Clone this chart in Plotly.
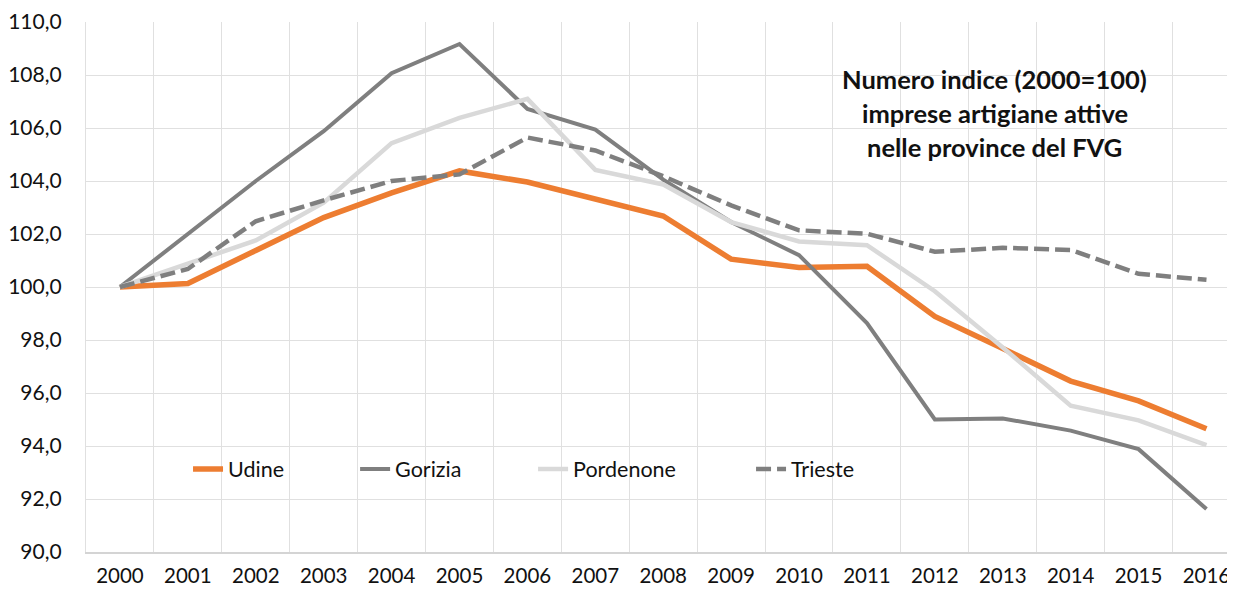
import plotly.graph_objects as go

years = [str(y) for y in range(2000, 2017)]

udine = [100.0, 100.13, 101.38, 102.62, 103.55, 104.38, 103.96, 103.3, 102.68,
         101.05, 100.74, 100.78, 98.89, 97.68, 96.45, 95.7, 94.65]
gorizia = [100.0, 102.0, 104.0, 105.88, 108.07, 109.17, 106.72, 105.94, 104.05,
           102.45, 101.2, 98.64, 95.0, 95.04, 94.58, 93.88, 91.62]
pordenone = [100.0, 100.9, 101.76, 103.18, 105.43, 106.38, 107.1, 104.42, 103.87,
             102.45, 101.72, 101.58, 99.84, 97.72, 95.52, 94.97, 94.03]
trieste = [100.0, 100.68, 102.48, 103.27, 104.0, 104.25, 105.64, 105.15, 104.18,
           103.08, 102.14, 102.01, 101.33, 101.48, 101.4, 100.5, 100.27]

y_ticks = [90, 92, 94, 96, 98, 100, 102, 104, 106, 108, 110]
title_lines = ["Numero indice (2000=100)", "imprese artigiane attive", "nelle province del FVG"]

FONT = "Lato"
TXT = "#111111"
GRID = "#E0E0E0"

series = [
    ("Udine", udine, dict(color="#ED7D31", width=5.5)),
    ("Gorizia", gorizia, dict(color="#7F7F7F", width=4)),
    ("Pordenone", pordenone, dict(color="#D9D9D9", width=4.5)),
    ("Trieste", trieste, dict(color="#7F7F7F", width=4.5, dash="15px,6px")),
]

# legend positions (paper x) for each entry
legend_x = [0.0888, 0.2342, 0.3891, 0.5788]
legend_y = 0.1566

fig = go.Figure()
layout_legends = {}
for i, (name, vals, line) in enumerate(series):
    lg = "legend" if i == 0 else f"legend{i+1}"
    fig.add_trace(go.Scatter(x=years, y=vals, mode="lines", name=name,
                             line=line, legend=lg))
    layout_legends[lg] = dict(x=legend_x[i], y=legend_y, xanchor="left", yanchor="middle",
                              bgcolor="rgba(0,0,0,0)", borderwidth=0,
                              font=dict(family=FONT, size=21.5, color=TXT))

# page body adds an 8px offset; the figure is sized so the plot lands where the reference has it
fig.update_layout(
    width=1227, height=583,
    margin=dict(l=78, r=0, t=14, b=39),
    paper_bgcolor="white", plot_bgcolor="white",
    separators=",.",
    showlegend=True,
    font=dict(family=FONT, size=21, color=TXT),
    **layout_legends,
)

fig.update_xaxes(type="category", tickson="boundaries", range=[-0.5, 16.42],
                 showgrid=True, gridcolor=GRID, gridwidth=1.3,
                 showline=True, linecolor="#D4D4D4", linewidth=1.6,
                 ticks="", ticklabelstandoff=5,
                 tickfont=dict(family=FONT, size=20.5, color=TXT))
fig.update_yaxes(range=[90, 110], tickvals=y_ticks, tickformat=".1f",
                 showgrid=True, gridcolor=GRID, gridwidth=1.3, zeroline=False,
                 showline=True, linecolor=GRID, linewidth=1.3,
                 ticks="", ticklabelstandoff=19,
                 tickfont=dict(family=FONT, size=21, color=TXT))

title_y = [0.8925, 0.828, 0.764]
for t, yy in zip(title_lines, title_y):
    fig.add_annotation(text=f"<b>{t}</b>", xref="paper", yref="paper", x=0.791, y=yy,
                       xanchor="center", yanchor="middle", showarrow=False,
                       font=dict(family=FONT, size=25.5, color=TXT))

fig.write_html("out.html")
